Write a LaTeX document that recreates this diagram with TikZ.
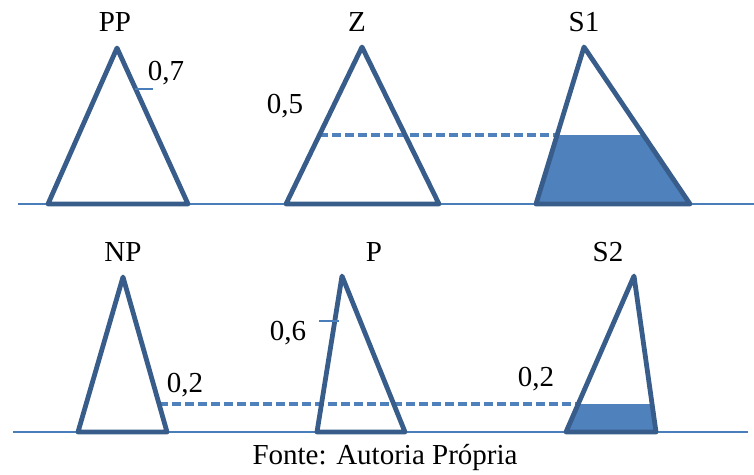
\documentclass[tikz,border=0pt]{standalone}
\usepackage{fontspec}
\setmainfont{Liberation Serif}
\definecolor{outl}{HTML}{385D8A}
\definecolor{fillb}{HTML}{4F81BD}
\definecolor{thinb}{HTML}{4A7EBB}
\begin{document}
\begin{tikzpicture}[x=1pt,y=-1pt,
  tri/.style={draw=outl,line width=4.8pt,line join=round},
  base/.style={draw=thinb,line width=1.8pt},
  dashl/.style={draw=fillb,line width=3.2pt,dash pattern=on 9pt off 4pt},
  tick/.style={draw=thinb,line width=1.5pt},
  lbl/.style={font=\fontsize{29}{29}\selectfont,anchor=base,inner sep=0pt}]
\useasboundingbox (0,0) rectangle (754,474);
% baselines
\draw[base] (18,204) -- (754,204);
\draw[base] (13,432) -- (748,432);
% named coordinates
\coordinate (ppA) at (117,48); \coordinate (ppL) at (48,204); \coordinate (ppR) at (188,204);
\coordinate (zA) at (362,47); \coordinate (zL) at (286,204); \coordinate (zR) at (439,204);
\coordinate (s1A) at (584,47); \coordinate (s1L) at (536,204); \coordinate (s1R) at (690,204);
\coordinate (npA) at (123,277); \coordinate (npL) at (78,432); \coordinate (npR) at (167,432);
\coordinate (pA) at (342,276); \coordinate (pL) at (317,432); \coordinate (pR) at (405,432);
\coordinate (s2A) at (634,276); \coordinate (s2L) at (566,432); \coordinate (s2R) at (656,432);
% fills
\begin{scope}
\clip (s1A) -- (s1L) -- (s1R) -- cycle;
\fill[fillb] (500,135) rectangle (720,210);
\end{scope}
\begin{scope}
\clip (s2A) -- (s2L) -- (s2R) -- cycle;
\fill[fillb] (540,404) rectangle (700,440);
\end{scope}
% dashed lines
\coordinate (d1a) at (319.4,135); \coordinate (d1b) at (557,135);
\coordinate (d2a) at (159,404); \coordinate (d2b) at (578,404);
\draw[dashl] (d1a) -- (d1b);
\draw[dashl] (d2a) -- (d2b);
% triangles
\draw[tri] (ppA) -- (ppL) -- (ppR) -- cycle;
\draw[tri] (zA) -- (zL) -- (zR) -- cycle;
\draw[tri] (s1A) -- (s1L) -- (s1R) -- cycle;
\draw[tri] (npA) -- (npL) -- (npR) -- cycle;
\draw[tri] (pA) -- (pL) -- (pR) -- cycle;
\draw[tri] (s2A) -- (s2L) -- (s2R) -- cycle;
% ticks
\coordinate (t1a) at (135,89); \coordinate (t1b) at (153,89);
\coordinate (t2a) at (319,321); \coordinate (t2b) at (339,321);
\draw[tick] (t1a) -- (t1b);
\draw[tick] (t2a) -- (t2b);
% labels
\node[lbl] (lPP) at (115,31) {PP};
\node[lbl] (lZ) at (357,31) {Z};
\node[lbl] (lS1) at (584,31) {S1};
\node[lbl] (l07) at (166,80) {0,7};
\node[lbl] (l05) at (285,113) {0,5};
\node[lbl] (lNP) at (123,261) {NP};
\node[lbl] (lP) at (374,261) {P};
\node[lbl] (lS2) at (608,261) {S2};
\node[lbl] (l06) at (288,340) {0,6};
\node[lbl] (l02a) at (185,392) {0,2};
\node[lbl] (l02b) at (536,386) {0,2};
\node[lbl] (cap) at (385,464) {Fonte: Autoria Própria};
\end{tikzpicture}
\end{document}
